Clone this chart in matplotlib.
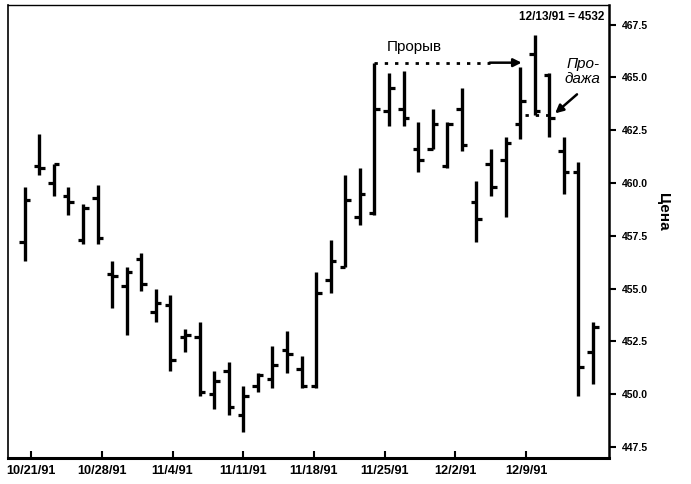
import numpy as np
import matplotlib.pyplot as plt

plt.rcParams["font.family"] = ["Liberation Sans", "DejaVu Sans"]

# дневные бары (открытие, максимум, минимум, закрытие)
opens = [457.2, 460.8, 460.0, 459.4, 457.3, 459.3, 455.7, 455.1, 456.4, 453.9,
         454.2, 452.7, 452.7, 450.0, 451.1, 449.0, 450.4, 450.7, 452.1, 451.2,
         450.4, 455.4, 456.0, 458.4, 458.6, 463.4, 463.5, 461.6, 461.6, 460.8,
         463.5, 459.1, 460.9, 461.1, 462.8, 466.1, 465.1, 461.5, 460.5, 452.0]
highs = [459.8, 462.3, 460.9, 459.8, 459.0, 459.9, 456.3, 456.0, 456.7, 455.0,
         454.7, 453.1, 453.4, 451.1, 451.5, 450.4, 451.0, 452.3, 453.0, 451.8,
         455.8, 457.3, 460.4, 460.7, 465.7, 465.2, 465.3, 462.9, 463.5, 462.9,
         464.5, 460.1, 461.6, 462.2, 465.5, 467.0, 465.2, 462.2, 461.0, 453.4]
lows = [456.3, 460.4, 459.4, 458.5, 457.1, 457.1, 454.1, 452.8, 454.9, 453.4,
        451.1, 452.0, 449.9, 449.3, 449.0, 448.2, 450.1, 450.3, 451.0, 450.3,
        450.3, 454.8, 456.0, 458.0, 458.5, 462.7, 462.7, 460.5, 461.6, 460.7,
        461.5, 457.2, 459.4, 458.4, 462.1, 463.2, 462.2, 459.5, 449.9, 450.5]
closes = [459.2, 460.7, 460.9, 459.1, 458.8, 457.4, 455.6, 455.8, 455.2, 454.3,
          451.6, 452.8, 450.1, 450.6, 449.4, 449.9, 450.9, 451.4, 451.9, 450.4,
          454.8, 456.3, 459.2, 459.5, 463.5, 464.5, 463.1, 461.1, 462.8, 462.8,
          461.8, 458.3, 459.8, 461.9, 463.9, 463.4, 463.1, 460.5, 451.3, 453.2]
date_labels = ["10/21/91", "10/28/91", "11/4/91", "11/11/91",
               "11/18/91", "11/25/91", "12/2/91", "12/9/91"]
yticks = [447.5, 450.0, 452.5, 455.0, 457.5, 460.0, 462.5, 465.0, 467.5]

fig = plt.figure(figsize=(6.91, 4.84), dpi=100)
ax = fig.add_axes([0.0116, 0.0537, 0.8698, 0.9363])

x = np.arange(len(opens))
w = 0.38
ax.vlines(x, lows, highs, color="black", lw=2.4)
ax.hlines(opens, x - w, x, color="black", lw=2.3)
ax.hlines(closes, x, x + w, color="black", lw=2.3)

ax.set_xlim(-1.15, 40.1)
ax.set_ylim(446.97, 468.44)

# метки дат стоят не строго по барам, как в оригинале
ax.set_xticks([0.43 + 4.855 * i for i in range(len(date_labels))])
ax.set_xticklabels(date_labels, fontweight="bold", fontsize=9.2)
ax.tick_params(axis="x", direction="in", length=5, width=1.5, pad=5)

ax.yaxis.tick_right()
ax.set_yticks(yticks)
ax.set_yticklabels([f"{v:.1f}" for v in yticks], fontweight="bold", fontsize=7.5)
ax.tick_params(axis="y", direction="out", length=5, width=1.5, pad=4)

ax.spines["bottom"].set_linewidth(2.2)
ax.spines["left"].set_linewidth(1.2)
ax.spines["right"].set_linewidth(1.8)
ax.spines["top"].set_linewidth(1.0)

# прорыв
b = 24
ax.plot([b, 31.9], [highs[b], highs[b]], color="black", lw=2,
        linestyle=(0, (1.2, 2.5)))
ax.annotate("", xy=(34.1, highs[b]), xytext=(31.9, highs[b]),
            arrowprops=dict(arrowstyle="-|>", color="black", lw=1.8,
                            mutation_scale=12, shrinkA=0, shrinkB=0))
ax.text(26.7, 466.45, "Прорыв", ha="center", va="center", fontsize=11)

# продажа
ax.plot([34.3, 36.3], [lows[35], lows[35]], color="black", lw=2,
        linestyle=(0, (1.2, 2.5)))
ax.annotate("", xy=(36.4, 463.3), xytext=(37.9, 464.2),
            arrowprops=dict(arrowstyle="-|>", color="black", lw=1.8,
                            mutation_scale=12, shrinkA=0, shrinkB=0))
ax.text(38.3, 465.3, "Про-\nдажа", ha="center", va="center", fontsize=11,
        style="italic", linespacing=1.1)

ax.text(0.993, 0.974, "12/13/91 = 4532", transform=ax.transAxes, ha="right",
        va="center", fontsize=8.5, fontweight="bold")

fig.text(0.96, 0.562, "Цена", rotation=270, ha="center", va="center",
         fontsize=11, fontweight="bold")

fig.savefig("out.png", dpi=100)
